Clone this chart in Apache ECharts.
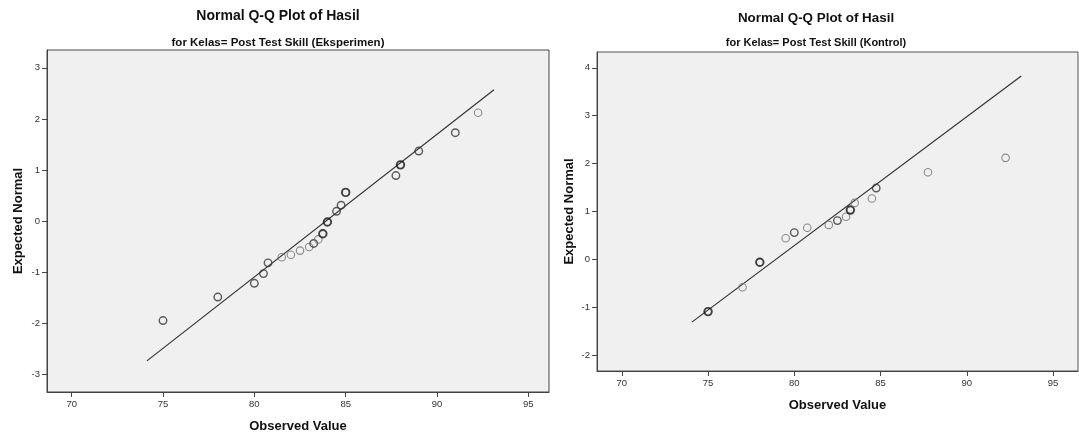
<!DOCTYPE html>
<html>
<head>
<meta charset="utf-8">
<script src="https://cdn.jsdelivr.net/npm/echarts@6/dist/echarts.min.js"></script>
<style>
html,body{margin:0;padding:0;background:#fff;}
#chart{width:1079px;height:433px;}
</style>
</head>
<body>
<div id="chart"></div>
<script>
// ---- Data ----
const titleMain = 'Normal Q-Q Plot of Hasil';
const subLeft = 'for Kelas= Post Test Skill (Eksperimen)';
const subRight = 'for Kelas= Post Test Skill (Kontrol)';
const xName = 'Observed Value';
const yName = 'Expected Normal';

const xTicks = [70, 75, 80, 85, 90, 95];
const yTicksLeft = [-3, -2, -1, 0, 1, 2, 3];
const yTicksRight = [-2, -1, 0, 1, 2, 3, 4];

// Eksperimen
const obsLeft = [75, 78, 80, 80.5, 80.75, 81.5, 82, 82.5, 83, 83.25, 83.5, 83.75, 84, 84.5, 84.75, 85, 87.75, 88, 89, 91, 92.25];
const expLeft = [-1.95, -1.49, -1.22, -1.03, -0.82, -0.71, -0.66, -0.58, -0.51, -0.44, -0.36, -0.25, -0.02, 0.19, 0.31, 0.56, 0.89, 1.10, 1.37, 1.73, 2.12];
const freqLeft = [2, 2, 2, 2, 2, 1, 1, 1, 1, 2, 1, 3, 3, 2, 2, 3, 2, 3, 2, 2, 1];
const lineXLeft = [74.12, 93.12];
const lineYLeft = [-2.74, 2.57];

// Kontrol
const obsRight = [75, 77, 78, 79.5, 80, 80.75, 82, 82.5, 83, 83.25, 83.5, 84.5, 84.75, 87.75, 92.25];
const expRight = [-1.09, -0.58, -0.06, 0.44, 0.56, 0.66, 0.72, 0.81, 0.89, 1.03, 1.18, 1.27, 1.49, 1.82, 2.12];
const freqRight = [3, 1, 3, 1, 2, 1, 1, 2, 1, 3, 1, 1, 2, 1, 1];
const lineXRight = [74.06, 93.16];
const lineYRight = [-1.31, 3.83];

// ---- Helpers ----
const FONT = "'Liberation Sans', Arial, sans-serif";
function pointStyle(f) {
  if (f >= 3) return { color: 'rgba(0,0,0,0)', borderColor: '#111', borderWidth: 1.9 };
  if (f === 2) return { color: 'rgba(0,0,0,0)', borderColor: '#333', borderWidth: 1.4 };
  return { color: 'rgba(0,0,0,0)', borderColor: '#707070', borderWidth: 1.1 };
}
function pts(xs, ys, fs) {
  return xs.map((x, i) => ({ value: [x, ys[i]], itemStyle: pointStyle(fs[i]) }));
}
function xAxis(gridIndex, min, max, gap) {
  return {
    type: 'value', gridIndex, min, max, position: 'bottom',
    name: xName, nameLocation: 'middle', nameGap: gap,
    nameTextStyle: { fontFamily: FONT, fontWeight: 'bold', fontSize: 13, color: '#111' },
    axisLine: { show: true, onZero: false, lineStyle: { color: '#444', width: 1 } },
    axisTick: { show: true, length: 5, inside: false, customValues: xTicks, lineStyle: { color: '#444' } },
    axisLabel: { customValues: xTicks, fontFamily: FONT, fontSize: 9.5, color: '#333', margin: 7 },
    splitLine: { show: false }
  };
}
function yAxis(gridIndex, min, max, ticks, gap) {
  return {
    type: 'value', gridIndex, min, max, position: 'left',
    name: yName, nameLocation: 'middle', nameGap: gap, nameRotate: 90,
    nameTextStyle: { fontFamily: FONT, fontWeight: 'bold', fontSize: 13, color: '#111' },
    axisLine: { show: true, onZero: false, lineStyle: { color: '#444', width: 1 } },
    axisTick: { show: true, length: 5, inside: false, customValues: ticks, lineStyle: { color: '#444' } },
    axisLabel: { customValues: ticks, fontFamily: FONT, fontSize: 9.5, color: '#333', margin: 7 },
    splitLine: { show: false }
  };
}

const chart = echarts.init(document.getElementById('chart'));
chart.setOption({
  animation: false,
  backgroundColor: '#ffffff',
  title: [
    { text: titleMain, left: 278, top: 9, padding: 0, textAlign: 'center',
      textStyle: { fontFamily: FONT, fontWeight: 'bold', fontSize: 14, color: '#111' } },
    { text: subLeft, left: 278, top: 37, padding: 0, textAlign: 'center',
      textStyle: { fontFamily: FONT, fontWeight: 'bold', fontSize: 11.5, color: '#111' } },
    { text: titleMain, left: 816, top: 12, padding: 0, textAlign: 'center',
      textStyle: { fontFamily: FONT, fontWeight: 'bold', fontSize: 13.4, color: '#111' } },
    { text: subRight, left: 816, top: 37.5, padding: 0, textAlign: 'center',
      textStyle: { fontFamily: FONT, fontWeight: 'bold', fontSize: 11, color: '#111' } }
  ],
  grid: [
    { left: 47, top: 50, width: 502, height: 342, show: true, backgroundColor: '#f0f0f0', borderColor: '#444', borderWidth: 1,
      containLabel: false, outerBoundsMode: 'none' },
    { left: 597, top: 52, width: 481, height: 319, show: true, backgroundColor: '#f0f0f0', borderColor: '#555', borderWidth: 1,
      containLabel: false, outerBoundsMode: 'none' }
  ],
  xAxis: [ xAxis(0, 68.65, 96.13, 28), xAxis(1, 68.56, 96.45, 28) ],
  yAxis: [ yAxis(0, -3.35, 3.35, yTicksLeft, 22), yAxis(1, -2.33, 4.33, yTicksRight, 21) ],
  series: [
    { type: 'line', xAxisIndex: 0, yAxisIndex: 0, data: lineXLeft.map((x, i) => [x, lineYLeft[i]]),
      showSymbol: false, symbol: 'none', lineStyle: { color: '#333', width: 1.2 }, silent: true, z: 2 },
    { type: 'scatter', xAxisIndex: 0, yAxisIndex: 0, data: pts(obsLeft, expLeft, freqLeft),
      symbol: 'circle', symbolSize: 7.5, z: 3 },
    { type: 'line', xAxisIndex: 1, yAxisIndex: 1, data: lineXRight.map((x, i) => [x, lineYRight[i]]),
      showSymbol: false, symbol: 'none', lineStyle: { color: '#333', width: 1.2 }, silent: true, z: 2 },
    { type: 'scatter', xAxisIndex: 1, yAxisIndex: 1, data: pts(obsRight, expRight, freqRight),
      symbol: 'circle', symbolSize: 7.5, z: 3 }
  ]
});
</script>
</body>
</html>
